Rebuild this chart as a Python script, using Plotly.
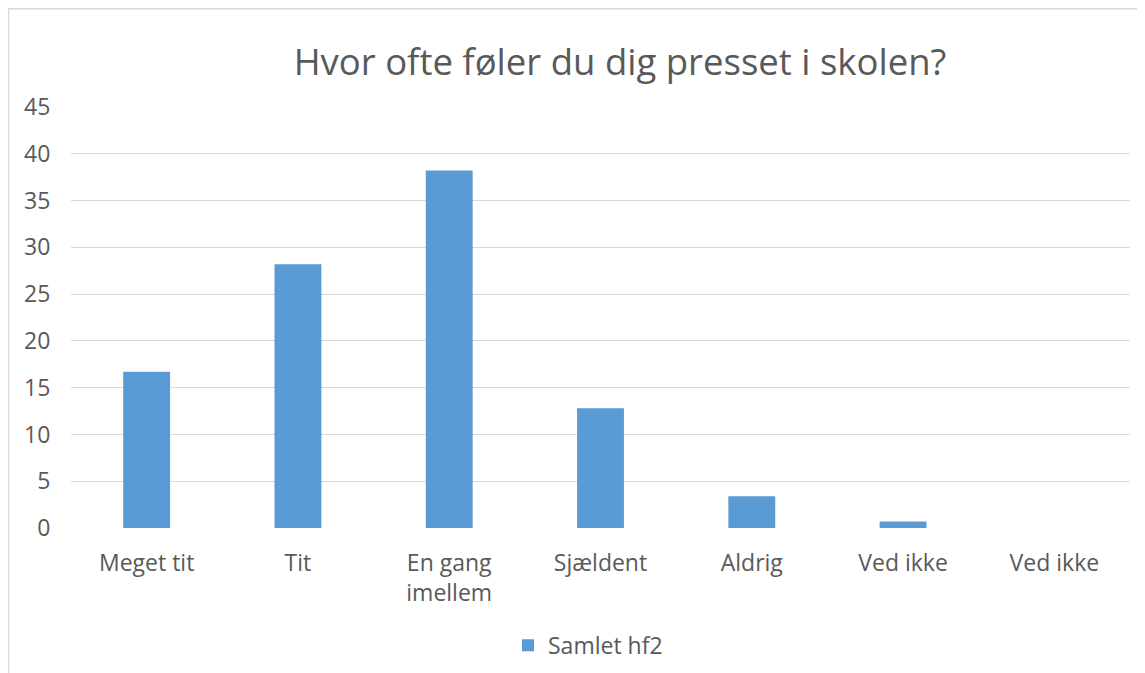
import plotly.graph_objects as go

categories = ["Meget tit", "Tit", "En gang<br>imellem", "Sjældent", "Aldrig", "Ved ikke", "Ved ikke"]
values = [16.7, 28.2, 38.2, 12.8, 3.4, 0.7, 0]
series_name = "Samlet hf2"
y_ticks = [0, 5, 10, 15, 20, 25, 30, 35, 40, 45]

W, H = 1145, 673
OFF = 8  # page body margin
L, R, T, B = 71 - OFF, 1130 - OFF, 106.7 - OFF, 527.7 - OFF
pw, ph = R - L, B - T

def px_x(x):
    return (x - OFF - L) / pw

def px_y(y):
    return (B - (y - OFF)) / ph

positions = list(range(len(categories)))

fig = go.Figure()
fig.add_trace(go.Bar(
    x=positions, y=values, name=series_name,
    marker=dict(color="#5b9bd5", line=dict(width=0)),
    width=0.31, showlegend=True,
))

FONT = "'Open Sans', 'Noto Sans', sans-serif"
TS = 23

fig.update_layout(
    width=W, height=H,
    margin=dict(l=L, r=W - R, t=T, b=H - B, pad=0),
    paper_bgcolor="white", plot_bgcolor="white",
    font=dict(family=FONT, color="#595959", size=TS),
    title=dict(text="Hvor ofte føler du dig presset i skolen?",
               font=dict(size=36.5, color="#595959", family=FONT),
               x=(620 - OFF) / W, xanchor="center", y=1 - (62 - OFF) / H, yanchor="middle"),
    xaxis=dict(tickmode="array", tickvals=positions, ticktext=categories,
               range=[-0.5, len(categories) - 0.5], showgrid=False, zeroline=False,
               showline=False, ticks="outside", ticklen=14, tickcolor="rgba(0,0,0,0)",
               tickfont=dict(size=TS, color="#595959", family=FONT)),
    yaxis=dict(range=[0, 45], tickvals=y_ticks, showgrid=True, gridcolor="#d9d9d9",
               gridwidth=1.3, zeroline=False, showline=False, ticks="outside", ticklen=15,
               tickcolor="rgba(0,0,0,0)", tickfont=dict(size=TS, color="#595959", family=FONT)),
    legend=dict(orientation="h", x=px_x(508), xanchor="left", y=px_y(645), yanchor="middle",
                font=dict(size=TS, color="#595959", family=FONT), itemwidth=30),
    shapes=[dict(type="rect", xref="paper", yref="paper",
                 x0=px_x(8.5), x1=px_x(1170), y0=px_y(8.5), y1=px_y(700),
                 line=dict(color="#d9d9d9", width=1.5), fillcolor="rgba(0,0,0,0)", layer="below")],
)

fig.write_html("out.html")
